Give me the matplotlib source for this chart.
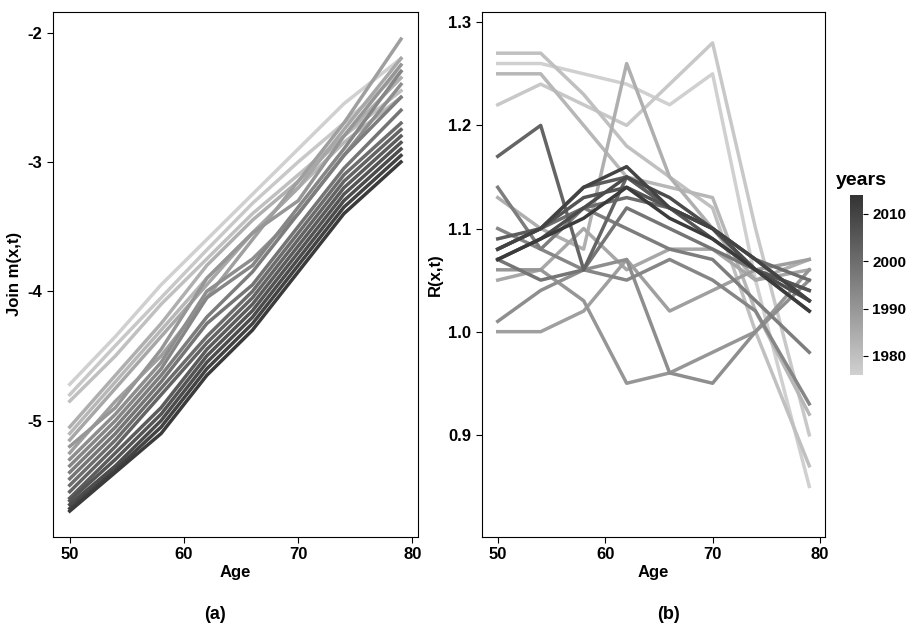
import matplotlib
matplotlib.use("Agg")
import matplotlib.pyplot as plt
import numpy as np
from matplotlib import cm, colors

ages = [50, 54, 58, 62, 66, 70, 74, 79]
years = list(range(1976, 2013, 2))
left_vals = [
[-4.72,-4.35,-3.95,-3.6,-3.25,-2.9,-2.55,-2.2],
[-4.8,-4.42,-4.05,-3.68,-3.32,-3.0,-2.7,-2.3],
[-4.85,-4.5,-4.1,-3.75,-3.4,-3.1,-2.8,-2.45],
[-5.1,-4.7,-4.3,-3.9,-3.55,-3.2,-2.85,-2.5],
[-5.05,-4.65,-4.25,-3.8,-3.45,-3.15,-2.8,-2.35],
[-5.15,-4.75,-4.35,-3.95,-3.55,-3.2,-2.75,-2.2],
[-5.25,-4.85,-4.5,-4.05,-3.6,-3.15,-2.7,-2.05],
[-5.2,-4.9,-4.45,-3.9,-3.55,-3.3,-2.8,-2.25],
[-5.3,-4.95,-4.55,-4.0,-3.75,-3.4,-2.95,-2.4],
[-5.35,-5.0,-4.6,-4.05,-3.8,-3.35,-2.9,-2.3],
[-5.4,-5.05,-4.65,-4.2,-3.85,-3.4,-2.95,-2.5],
[-5.45,-5.1,-4.7,-4.25,-3.95,-3.5,-3.05,-2.6],
[-5.5,-5.15,-4.75,-4.35,-4.0,-3.55,-3.1,-2.7],
[-5.55,-5.2,-4.8,-4.4,-4.05,-3.6,-3.15,-2.75],
[-5.6,-5.25,-4.9,-4.45,-4.1,-3.65,-3.2,-2.8],
[-5.62,-5.3,-4.95,-4.5,-4.15,-3.7,-3.25,-2.85],
[-5.65,-5.35,-5.0,-4.55,-4.2,-3.75,-3.3,-2.9],
[-5.68,-5.38,-5.05,-4.6,-4.25,-3.8,-3.35,-2.95],
[-5.7,-5.4,-5.1,-4.65,-4.3,-3.85,-3.4,-3.0],
]
right_vals = [
[1.26,1.26,1.25,1.24,1.22,1.25,1.05,0.85],
[1.22,1.24,1.22,1.2,1.24,1.28,1.1,0.9],
[1.27,1.27,1.23,1.18,1.15,1.12,1.0,0.87],
[1.25,1.25,1.2,1.15,1.14,1.13,1.02,0.92],
[1.13,1.1,1.08,1.26,1.15,1.1,1.05,1.07],
[1.05,1.06,1.1,1.06,1.08,1.08,1.05,1.06],
[1.0,1.0,1.02,1.07,1.02,1.04,1.06,1.07],
[1.06,1.06,1.03,0.95,0.96,0.98,1.0,1.06],
[1.01,1.04,1.06,1.07,0.96,0.95,1.0,1.05],
[1.1,1.08,1.06,1.05,1.07,1.05,1.02,0.93],
[1.14,1.08,1.12,1.1,1.08,1.07,1.03,0.98],
[1.07,1.05,1.06,1.12,1.1,1.08,1.06,1.04],
[1.08,1.1,1.12,1.13,1.12,1.1,1.07,1.05],
[1.17,1.2,1.06,1.15,1.12,1.1,1.06,1.02],
[1.09,1.1,1.14,1.15,1.12,1.1,1.07,1.03],
[1.08,1.1,1.13,1.14,1.12,1.09,1.06,1.04],
[1.07,1.09,1.12,1.15,1.13,1.1,1.06,1.03],
[1.08,1.1,1.14,1.16,1.12,1.1,1.07,1.03],
[1.07,1.09,1.11,1.14,1.11,1.09,1.06,1.02],
]

plt.rcParams['font.family'] = ['Liberation Sans', 'DejaVu Sans']
plt.rcParams['axes.unicode_minus'] = False
cmap = colors.LinearSegmentedColormap.from_list('g', ['#d0d0d0', '#333333'])
norm = colors.Normalize(1976, 2014)

fig = plt.figure(figsize=(9.07, 6.28), dpi=100)
ax1 = fig.add_axes([0.058, 0.145, 0.403, 0.836])
ax2 = fig.add_axes([0.531, 0.145, 0.379, 0.836])

for ax, data in ((ax1, left_vals), (ax2, right_vals)):
    for y, v in zip(years, data):
        ax.plot(ages, v, color=cmap(norm(y)), lw=2.5)
    ax.set_xlim(48.5, 80.5)
    ax.set_xticks([50, 60, 70, 80])
    ax.set_xlabel('Age', fontsize=12, fontweight='bold', labelpad=2)
    ax.tick_params(length=4)
ax1.set_ylim(-5.9, -1.84)
ax1.set_yticks([-5, -4, -3, -2])
ax1.set_ylabel('Join m(x,t)', fontsize=12, fontweight='bold', labelpad=4)
ax2.set_ylim(0.801, 1.31)
ax2.set_yticks([0.9, 1.0, 1.1, 1.2, 1.3])
ax2.set_yticklabels(['0.9', '1.0', '1.1', '1.2', '1.3'])
ax2.set_ylabel('R(x,t)', fontsize=12, fontweight='bold')
for ax in (ax1, ax2):
    for lab in ax.get_xticklabels() + ax.get_yticklabels():
        lab.set_fontweight('bold'); lab.set_fontsize(12)

cax = fig.add_axes([0.937, 0.403, 0.014, 0.287])
cb = fig.colorbar(cm.ScalarMappable(norm=norm, cmap=cmap), cax=cax, ticks=[1980, 1990, 2000, 2010])
cb.outline.set_visible(False)
for lab in cax.get_yticklabels():
    lab.set_fontweight('bold'); lab.set_fontsize(11)
fig.text(0.922, 0.705, 'years', fontsize=14, fontweight='bold')
fig.text(0.237, 0.015, '(a)', fontsize=13, fontweight='bold', ha='center')
fig.text(0.737, 0.015, '(b)', fontsize=13, fontweight='bold', ha='center')
fig.savefig('out.png')
